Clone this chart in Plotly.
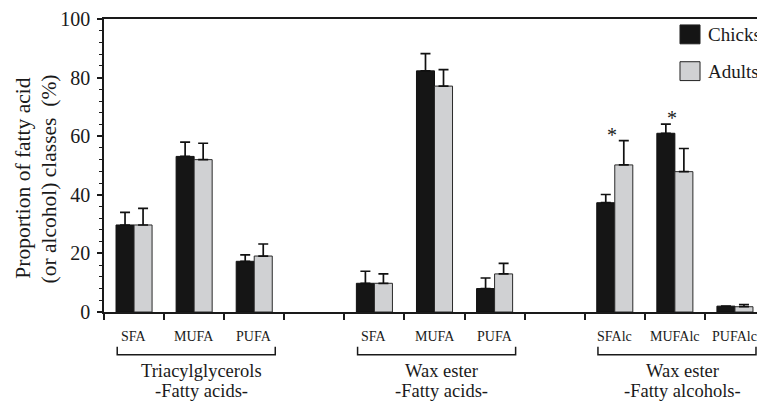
import plotly.graph_objects as go

# ---- data ----
categories = ["SFA", "MUFA", "PUFA", "", "SFA", "MUFA", "PUFA", "", "SFAlc", "MUFAlc", "PUFAlc"]
chicks_mean = [29.7, 53.1, 17.3, None, 9.8, 82.3, 8.0, None, 37.3, 61.0, 2.0]
chicks_err = [4.3, 4.9, 2.2, None, 4.1, 5.9, 3.6, None, 2.8, 3.1, 0.0]
adults_mean = [29.7, 52.0, 19.1, None, 9.8, 77.1, 13.0, None, 50.2, 47.9, 1.8]
adults_err = [5.7, 5.6, 4.1, None, 3.2, 5.6, 3.6, None, 8.3, 7.9, 0.7]
significant = [False, False, False, False, False, False, False, False, True, True, False]
groups = [
    ("Triacylglycerols", "-Fatty acids-", 0, 2),
    ("Wax ester", "-Fatty acids-", 4, 6),
    ("Wax ester", "-Fatty alcohols-", 8, 10),
]
series_names = ["Chicks", "Adults"]
y_title_lines = ["Proportion of fatty acid", "(or alcohol) classes  (%)"]
y_ticks = [0, 20, 40, 60, 80, 100]

FONT = "Liberation Serif, Times New Roman, serif"
TXT = "#1a1a1a"
BLACK = "#151515"
GRAY = "#d0d1d3"

x = list(range(len(categories)))

fig = go.Figure()
fig.add_trace(go.Bar(
    x=x, y=chicks_mean, name=series_names[0],
    marker=dict(color=BLACK, line=dict(color="#111111", width=1)),
    error_y=dict(type="data", array=chicks_err, arrayminus=[0] * len(x), symmetric=False,
                 color="#111111", thickness=1.7, width=5),
    showlegend=False,
))
fig.add_trace(go.Bar(
    x=x, y=adults_mean, name=series_names[1],
    marker=dict(color=GRAY, line=dict(color="#2a2a2a", width=1)),
    error_y=dict(type="data", array=adults_err, arrayminus=[0] * len(x), symmetric=False,
                 color="#111111", thickness=1.7, width=5),
    showlegend=False,
))

annotations = []
shapes = []

# category labels
for i, c in enumerate(categories):
    if c:
        annotations.append(dict(x=i, y=-0.085, xref="x", yref="paper", text=c, showarrow=False,
                                font=dict(family=FONT, size=14, color=TXT),
                                xanchor="center", yanchor="middle"))

# group brackets and labels
for line1, line2, a, b in groups:
    x0, x1 = a - 0.28, b + 0.35
    shapes.append(dict(type="path", xref="x", yref="paper",
                       path=f"M {x0},-0.119 L {x0},-0.146 L {x1},-0.146 L {x1},-0.119",
                       line=dict(color=TXT, width=1.5)))
    mid = (a + b) / 2 + 0.12
    annotations.append(dict(x=mid, y=-0.202, xref="x", yref="paper", text=line1, showarrow=False,
                            font=dict(family=FONT, size=18.5, color=TXT), xanchor="center", yanchor="middle"))
    annotations.append(dict(x=mid, y=-0.270, xref="x", yref="paper", text=line2, showarrow=False,
                            font=dict(family=FONT, size=18.5, color=TXT), xanchor="center", yanchor="middle"))

# significance asterisks
for i, s in enumerate(significant):
    if s:
        top = max(chicks_mean[i] + chicks_err[i], adults_mean[i] + adults_err[i])
        annotations.append(dict(x=i - 0.05, y=top + 2.0, xref="x", yref="y", text="*", showarrow=False,
                                font=dict(family=FONT, size=20, color=TXT), xanchor="center", yanchor="middle"))

# y title (two lines)
for txt, xp in zip(y_title_lines, [-0.1225, -0.0835]):
    annotations.append(dict(x=xp, y=0.455, xref="paper", yref="paper", text=txt, showarrow=False,
                            textangle=-90, font=dict(family=FONT, size=21.5, color=TXT),
                            xanchor="center", yanchor="middle"))

# legend (drawn)
legend_cols = [BLACK, GRAY]
legend_y = [(0.9153, 0.9797), (0.7898, 0.8542)]
for name, col, (ya, yb) in zip(series_names, legend_cols, legend_y):
    shapes.append(dict(type="rect", xref="paper", yref="paper", x0=0.8714, x1=0.9017, y0=ya, y1=yb,
                       fillcolor=col, line=dict(color="#222222", width=1)))
    annotations.append(dict(x=0.9105, y=(ya + yb) / 2, xref="paper", yref="paper", text=name,
                            showarrow=False, font=dict(family=FONT, size=19, color=TXT),
                            xanchor="left", yanchor="middle"))

# page body has an 8px margin, so the figure is 8px smaller and offsets reduced by 8
fig.update_layout(
    width=757, height=394,
    margin=dict(l=96, r=0, t=9, b=90),
    paper_bgcolor="white", plot_bgcolor="white",
    barmode="group", bargap=0.4, bargroupgap=0,
    font=dict(family=FONT, color=TXT),
    annotations=annotations, shapes=shapes,
    showlegend=False,
)
fig.update_xaxes(
    range=[-0.5, len(categories) - 0.5],
    tickmode="array", tickvals=[i - 0.5 for i in x], showticklabels=False,
    ticks="outside", ticklen=6, tickwidth=1.5, tickcolor=TXT,
    showline=True, linecolor=TXT, linewidth=1.5, mirror=True,
    showgrid=False, zeroline=False,
)
fig.update_yaxes(
    range=[0, 100], tickmode="array", tickvals=y_ticks,
    ticks="outside", ticklen=5, tickwidth=1.5, tickcolor=TXT,
    minor=dict(dtick=4, tick0=0, ticks="outside", ticklen=3, tickwidth=1.2, tickcolor=TXT),
    tickfont=dict(family=FONT, size=20, color=TXT),
    ticklabeloverflow="allow", ticklabelstandoff=3,
    showline=True, linecolor=TXT, linewidth=1.5,
    showgrid=False, zeroline=False,
)

fig.write_html("out.html")
